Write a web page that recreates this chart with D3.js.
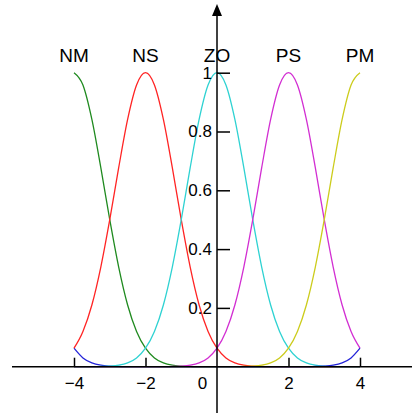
<!DOCTYPE html>
<html>
<head>
<meta charset="utf-8">
<script src="https://cdn.jsdelivr.net/npm/d3@7"></script>
<style>
  html, body { margin: 0; padding: 0; background: #fff; }
  text { font-family: "Liberation Sans", Arial, sans-serif; }
</style>
</head>
<body>
<div id="chart"></div>
<script>
// sample grid on the x axis (-4 .. 4, step 0.25)
const xs = [-4, -3.75, -3.5, -3.25, -3, -2.75, -2.5, -2.25, -2, -1.75, -1.5, -1.25, -1, -0.75, -0.5, -0.25,
  0, 0.25, 0.5, 0.75, 1, 1.25, 1.5, 1.75, 2, 2.25, 2.5, 2.75, 3, 3.25, 3.5, 3.75, 4];

// membership values
const nb = [0.063, 0.03, 0.013, 0.005, 0.002, 0.001, 0, 0, 0, 0, 0, 0, 0, 0, 0, 0,
  0, 0, 0, 0, 0, 0, 0, 0, 0, 0, 0, 0, 0, 0, 0, 0, 0];
const nm = [1, 0.958, 0.841, 0.677, 0.5, 0.339, 0.21, 0.12, 0.063, 0.03, 0.013, 0.005, 0.002, 0.001, 0, 0,
  0, 0, 0, 0, 0, 0, 0, 0, 0, 0, 0, 0, 0, 0, 0, 0, 0];
const ns = [0.063, 0.12, 0.21, 0.339, 0.5, 0.677, 0.841, 0.958, 1, 0.958, 0.841, 0.677, 0.5, 0.339, 0.21, 0.12,
  0.063, 0.03, 0.013, 0.005, 0.002, 0.001, 0, 0, 0, 0, 0, 0, 0, 0, 0, 0, 0];
const zo = [0, 0, 0, 0.001, 0.002, 0.005, 0.013, 0.03, 0.063, 0.12, 0.21, 0.339, 0.5, 0.677, 0.841, 0.958,
  1, 0.958, 0.841, 0.677, 0.5, 0.339, 0.21, 0.12, 0.063, 0.03, 0.013, 0.005, 0.002, 0.001, 0, 0, 0];
const ps = [0, 0, 0, 0, 0, 0, 0, 0, 0, 0, 0, 0.001, 0.002, 0.005, 0.013, 0.03,
  0.063, 0.12, 0.21, 0.339, 0.5, 0.677, 0.841, 0.958, 1, 0.958, 0.841, 0.677, 0.5, 0.339, 0.21, 0.12, 0.063];
const pm = [0, 0, 0, 0, 0, 0, 0, 0, 0, 0, 0, 0, 0, 0, 0, 0,
  0, 0, 0, 0.001, 0.002, 0.005, 0.013, 0.03, 0.063, 0.12, 0.21, 0.339, 0.5, 0.677, 0.841, 0.958, 1];
const pb = [0, 0, 0, 0, 0, 0, 0, 0, 0, 0, 0, 0, 0, 0, 0, 0,
  0, 0, 0, 0, 0, 0, 0, 0, 0, 0, 0, 0.001, 0.002, 0.005, 0.013, 0.03, 0.063];

// series names, label text, peak position and colour
const seriesValues = [nb, nm, ns, zo, ps, pm, pb];
const seriesLabels = ["", "NM", "NS", "ZO", "PS", "PM", ""];
const seriesPeaks = [-6, -4, -2, 0, 2, 4, 6];
const seriesColors = ["#2323d8", "#1f8a1f", "#ff2424", "#2ed2d2", "#d22ed2", "#cccc1c", "#2323d8"];

const xTicks = [-4, -2, 0, 2, 4];
const yTicks = [0.2, 0.4, 0.6, 0.8, 1];

const W = 412, H = 415;

const x = d3.scaleLinear().domain([-4, 4]).range([74, 360]);
const y = d3.scaleLinear().domain([0, 1]).range([366.7, 72.7]);

const svg = d3.select("#chart").append("svg")
  .attr("width", W)
  .attr("height", H);

// curves
const line = d3.line()
  .x((d, i) => x(xs[i]))
  .y(d => y(d))
  .curve(d3.curveMonotoneX);

svg.append("g")
  .selectAll("path")
  .data(seriesValues)
  .join("path")
  .attr("d", d => line(d))
  .attr("fill", "none")
  .attr("stroke", (d, i) => seriesColors[i])
  .attr("stroke-width", 1.3);

// axis lines
svg.append("line")
  .attr("x1", 12).attr("x2", W)
  .attr("y1", y(0)).attr("y2", y(0))
  .attr("stroke", "#000").attr("stroke-width", 1.5);

svg.append("line")
  .attr("x1", x(0)).attr("x2", x(0))
  .attr("y1", 14).attr("y2", 413)
  .attr("stroke", "#000").attr("stroke-width", 1.5);

svg.append("path")
  .attr("d", `M${x(0)},4 L${x(0) + 5},16 L${x(0) - 5},16 Z`)
  .attr("fill", "#000");

// x axis ticks (pointing up) and labels
const xAxis = svg.append("g")
  .attr("transform", `translate(0,${y(0)})`)
  .call(d3.axisBottom(x)
    .tickValues(xTicks)
    .tickSizeInner(-9)
    .tickSizeOuter(0)
    .tickPadding(10));

xAxis.select(".domain").remove();
xAxis.selectAll(".tick line")
  .attr("stroke", "#000")
  .attr("stroke-width", 1.5)
  .filter(d => d === 0).remove();
xAxis.selectAll(".tick text")
  .style("font-size", "17px")
  .style("font-family", "'Liberation Sans', Arial, sans-serif")
  .attr("fill", "#000")
  .attr("x", d => d === 0 ? -15 : 0);

// y axis ticks (pointing right) and labels on the left
const yAxis = svg.append("g")
  .attr("transform", `translate(${x(0)},0)`)
  .call(d3.axisRight(y)
    .tickValues(yTicks)
    .tickFormat(d => String(d))
    .tickSizeInner(13)
    .tickSizeOuter(0));

yAxis.select(".domain").remove();
yAxis.selectAll(".tick line")
  .attr("stroke", "#000")
  .attr("stroke-width", 1.5);
yAxis.selectAll(".tick text")
  .attr("x", -5)
  .attr("text-anchor", "end")
  .style("font-size", "17px")
  .style("font-family", "'Liberation Sans', Arial, sans-serif")
  .attr("fill", "#000");

// curve names above the peaks
svg.append("g")
  .selectAll("text")
  .data(seriesLabels.map((t, i) => ({ t, p: seriesPeaks[i] })).filter(d => d.t))
  .join("text")
  .attr("x", d => x(d.p))
  .attr("y", 62)
  .attr("text-anchor", "middle")
  .style("font-size", "19px")
  .attr("fill", "#000")
  .text(d => d.t);
</script>
</body>
</html>
